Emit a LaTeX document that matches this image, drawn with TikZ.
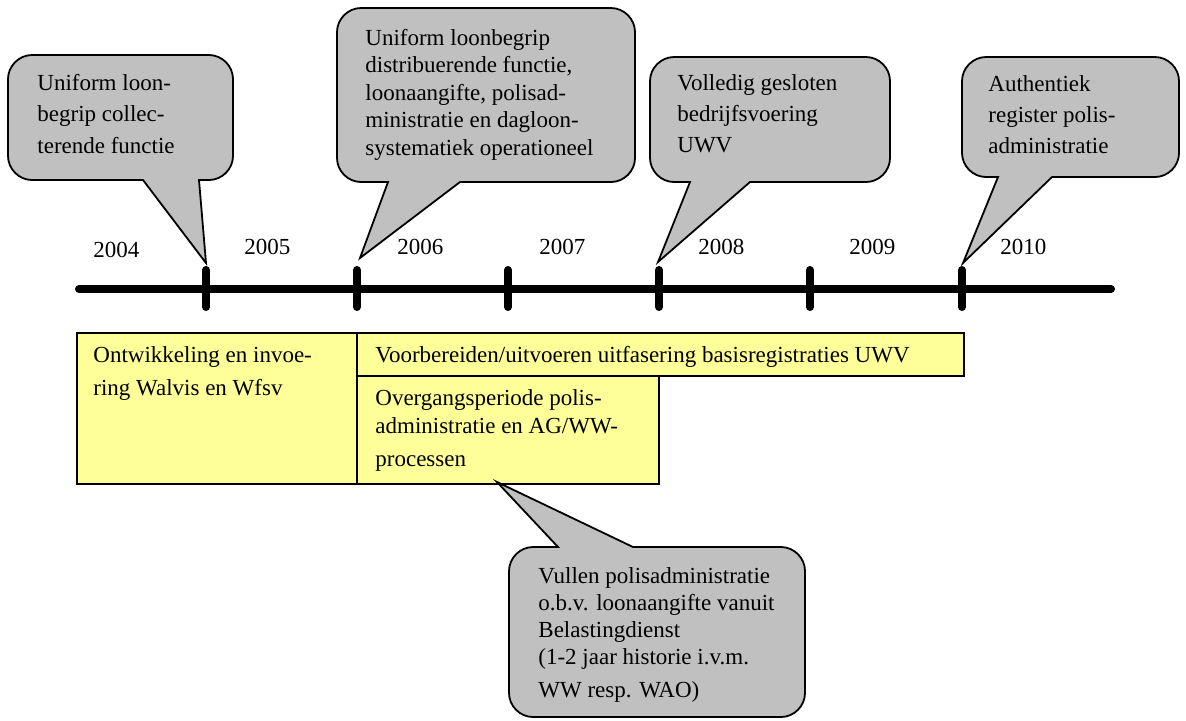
\documentclass[tikz,border=0pt]{standalone}
\usepackage{fontspec}
\setmainfont{Liberation Serif}
\definecolor{bubblegray}{HTML}{C0C0C0}
\definecolor{boxyellow}{HTML}{FFFF99}
\newcommand{\bubbledown}[7]{% L T R B b1 b2 tip
  \filldraw[bubble] (#7) -- (#6,#4) -- ({#3-24},#4) .. controls ({#3-11},#4) and (#3,{#4-11}) .. (#3,{#4-24})
   -- (#3,{#2+24}) .. controls (#3,{#2+11}) and ({#3-11},#2) .. ({#3-24},#2)
   -- ({#1+24},#2) .. controls ({#1+11},#2) and (#1,{#2+11}) .. (#1,{#2+24})
   -- (#1,{#4-24}) .. controls (#1,{#4-11}) and ({#1+11},#4) .. ({#1+24},#4)
   -- (#5,#4) -- cycle;}
\newcommand{\bubbleup}[7]{% L T R B b1 b2 tip
  \filldraw[bubble] (#7) -- (#5,#2) -- ({#1+24},#2) .. controls ({#1+11},#2) and (#1,{#2+11}) .. (#1,{#2+24})
   -- (#1,{#4-24}) .. controls (#1,{#4-11}) and ({#1+11},#4) .. ({#1+24},#4)
   -- ({#3-24},#4) .. controls ({#3-11},#4) and (#3,{#4-11}) .. (#3,{#4-24})
   -- (#3,{#2+24}) .. controls (#3,{#2+11}) and ({#3-11},#2) .. ({#3-24},#2)
   -- (#6,#2) -- cycle;}
\begin{document}
\begin{tikzpicture}[x=0.5pt,y=-0.5pt,
  bubble/.style={draw=black, fill=bubblegray, line width=0.9pt, line join=miter},
  yearlbl/.style={anchor=base west, inner sep=0pt, font=\fontsize{11.5}{13.8}\selectfont},
  txt/.style={anchor=base west, inner sep=0pt, align=left},
  ybox/.style={draw=black, fill=boxyellow, line width=1pt, inner sep=0pt, anchor=north west},
  axisline/.style={line width=4pt, line cap=round},
  tickmark/.style={line width=4pt, line cap=round}]
\useasboundingbox (0,0) rectangle (1186,720);

% timeline
\coordinate (axL) at (79,289);
\coordinate (axR) at (1111,289);
\draw[axisline] (axL) -- (axR);
\foreach \x/\n in {206/1,357/2,508/3,659/4,810/5,962/6}{
  \coordinate (tt\n) at (\x,270);
  \coordinate (tb\n) at (\x,307);
  \draw[tickmark] (tt\n) -- (tb\n);
}

% years
\node[yearlbl] (y2004) at (93,257) {2004};
\node[yearlbl] (y2005) at (244,254) {2005};
\node[yearlbl] (y2006) at (397,254) {2006};
\node[yearlbl] (y2007) at (539,254) {2007};
\node[yearlbl] (y2008) at (698,254) {2008};
\node[yearlbl] (y2009) at (849,254) {2009};
\node[yearlbl] (y2010) at (1000,254) {2010};

% yellow boxes
\node[ybox, minimum width=140pt, minimum height=75.5pt] (bleft) at (76,332) {};
\node[ybox, minimum width=303.5pt, minimum height=21.5pt] (btop) at (356,332) {};
\node[ybox, minimum width=151pt, minimum height=54pt] (blow) at (356,375) {};
% (multi-line nodes: base anchor = last line's baseline)
\node[txt, font=\fontsize{11.5}{16.5}\selectfont] (tleft) at (93,395) {Ontwikkeling en invoe-\\ring Walvis en Wfsv};
\node[txt, font=\fontsize{11.5}{14}\selectfont] (ttop) at (375,362) {Voorbereiden/uitvoeren uitfasering basisregistraties UWV};
\node[txt, font=\fontsize{11.5}{14}\selectfont] (tlow) at (375,466) {Overgangsperiode polis-\\administratie en AG/WW-\\[2.5pt]processen};

% callouts
\coordinate (tip1) at (206,263);
\coordinate (tip2) at (360,258);
\coordinate (tip3) at (658,262);
\coordinate (tip4) at (963,263);
\coordinate (tip5) at (497,482);
\bubbledown{8}{55}{233}{180}{143}{199}{tip1}
\bubbledown{337}{8}{635}{182}{388}{460}{tip2}
\bubbledown{650}{57}{890}{182}{690}{750}{tip3}
\bubbledown{962}{57}{1179}{177}{998}{1052}{tip4}
\bubbleup{509}{547}{805}{717}{558}{633}{tip5}

\node[txt, font=\fontsize{11.5}{15.75}\selectfont] (c1) at (37,153) {Uniform loon-\\begrip collec-\\terende functie};
\node[txt, font=\fontsize{11.5}{13.75}\selectfont] (c2) at (365,155) {Uniform loonbegrip\\distribuerende functie,\\loonaangifte, polisad-\\ministratie en dagloon-\\systematiek operationeel};
\node[txt, font=\fontsize{11.5}{15.5}\selectfont] (c3) at (677,152) {Volledig gesloten\\bedrijfsvoering\\UWV};
\node[txt, font=\fontsize{11.5}{15.5}\selectfont] (c4) at (988,153) {Authentiek\\register polis-\\administratie};
\node[txt, font=\fontsize{11.5}{13.5}\selectfont] (c5) at (538,697) {Vullen polisadministratie\\o.b.v. loonaangifte vanuit\\Belastingdienst\\(1-2 jaar historie i.v.m.\\[3pt]WW resp. WAO)};
\end{tikzpicture}
\end{document}
